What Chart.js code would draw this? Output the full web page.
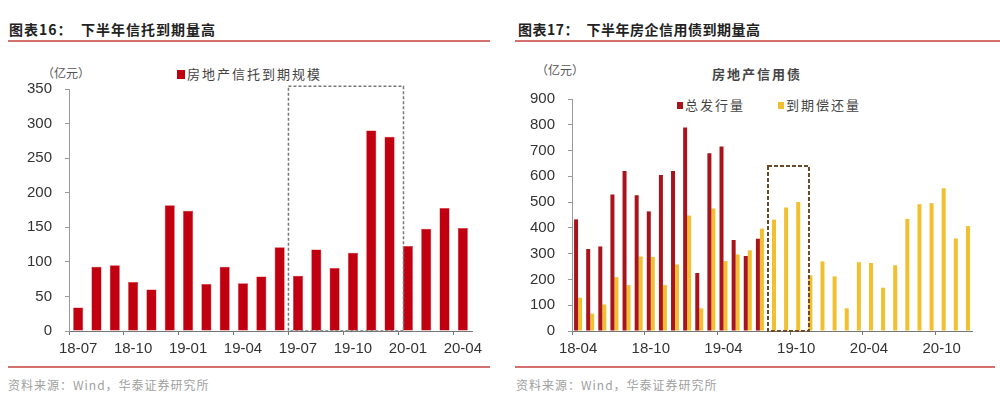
<!DOCTYPE html>
<html>
<head>
<meta charset="utf-8">
<script src="https://cdn.jsdelivr.net/npm/chart.js@4.4.1/dist/chart.umd.min.js"></script>
<style>
  body { margin: 0; background: #fff; width: 1000px; height: 396px; position: relative; overflow: hidden;
         font-family: "Noto Sans CJK SC", "Noto Sans", sans-serif; }
  .abs { position: absolute; white-space: nowrap; }
  .title { font-size: 14px; font-weight: 700; color: #222; top: 19px; }
  .hline { position: absolute; height: 2px; background: #d4706e; }
  .src { font-size: 12px; color: #a0a0a0; top: 376px; letter-spacing: 1px; }
  .unit { font-size: 12px; color: #555; }
  .leg { font-size: 13px; color: #444; }
  .sq { display: inline-block; vertical-align: middle; margin-right: 2px; position: relative; top: -1px; }
  canvas { position: absolute; }
</style>
</head>
<body>
<div class="abs title" style="left:9px; letter-spacing:1px;">图表16：&nbsp;&nbsp;下半年信托到期量高</div>
<div class="hline" style="left:8px; width:482px; top:40px;"></div>
<div class="abs title" style="left:518px; letter-spacing:0.5px;">图表17：&nbsp;&nbsp;下半年房企信用债到期量高</div>
<div class="hline" style="left:515px; width:485px; top:40px;"></div>

<div class="abs unit" style="left:42px; top:64px;">（亿元）</div>
<div class="abs leg" style="left:177px; top:64px; letter-spacing:2px;"><span class="sq" style="width:8px;height:9px;background:#c00010;"></span>房地产信托到期规模</div>

<div class="abs unit" style="left:536px; top:61px;">（亿元）</div>
<div class="abs leg" style="left:712px; top:64px; font-weight:700; letter-spacing:2px;">房地产信用债</div>
<div class="abs leg" style="left:677px; top:95px; letter-spacing:2px;"><span class="sq" style="width:6px;height:7px;background:#a8141b;"></span>总发行量</div>
<div class="abs leg" style="left:778px; top:95px; letter-spacing:2px;"><span class="sq" style="width:6px;height:7px;background:#f0c030;"></span>到期偿还量</div>

<canvas id="c1" width="490" height="300" style="left:0; top:60px;"></canvas>
<canvas id="c2" width="500" height="300" style="left:500px; top:60px;"></canvas>

<div class="hline" style="left:8px; width:482px; top:366px; height:1.5px;"></div>
<div class="hline" style="left:515px; width:480px; top:366px; height:1.5px;"></div>
<div class="abs src" style="left:8px;">资料来源：Wind，华泰证券研究所</div>
<div class="abs src" style="left:516px;">资料来源：Wind，华泰证券研究所</div>

<script>
// 图表16 房地产信托到期规模
var trustMonths = ['18-07','18-08','18-09','18-10','18-11','18-12','19-01','19-02','19-03','19-04','19-05',
                   '19-06','19-07','19-08','19-09','19-10','19-11','19-12','20-01','20-02','20-03','20-04'];
var trustDue = [34, 93, 95, 71, 60, 182, 174, 68, 93, 69, 79, 121, 80, 118, 91, 113, 290, 281, 123, 148, 178, 149];

// 图表17 房地产信用债
var bondMonths = ['18-04','18-05','18-06','18-07','18-08','18-09','18-10','18-11','18-12','19-01','19-02',
                  '19-03','19-04','19-05','19-06','19-07','19-08','19-09','19-10','19-11','19-12','20-01',
                  '20-02','20-03','20-04','20-05','20-06','20-07','20-08','20-09','20-10','20-11','20-12'];
var bondIssue = [433, 318, 328, 530, 621, 527, 464, 605, 621, 789, 225, 690, 716, 353, 291, 358];
var bondRepay = [129, 67, 103, 209, 178, 289, 287, 178, 258, 448, 88, 475, 271, 297, 313, 397,
                 432, 479, 500, 216, 270, 212, 88, 267, 264, 168, 255, 435, 492, 496, 554, 359, 407];

// highlighted windows (category index range, top value)
var trustBox = { from: 11.48, to: 17.76, top: 354, color: '#777' };
var bondBox = { from: 15.67, to: 19.05, top: 640, color: '#6b4a2a' };

var numFont = { family: '"Liberation Sans", Arial, sans-serif', size: 15 };

var boxPlugin = {
    id: 'dashBox',
    afterDatasetsDraw: function(chart, args, opts) {
        var x = chart.scales.x, y = chart.scales.y, ctx = chart.ctx;
        var step = x.getPixelForValue(1) - x.getPixelForValue(0);
        var x0 = x.getPixelForValue(0) + opts.from * step;
        var x1 = x.getPixelForValue(0) + opts.to * step;
        var y0 = y.getPixelForValue(opts.top), y1 = y.getPixelForValue(0);
        ctx.save();
        ctx.strokeStyle = opts.color;
        ctx.lineWidth = opts.width || 1.5;
        ctx.setLineDash(opts.dash || [3, 2]);
        ctx.strokeRect(x0, y0, x1 - x0, y1 - y0);
        ctx.restore();
    }
};

function makeOptions(every, yMax, yStep, yWidth, padTop, padRight, box) {
    return {
        responsive: false,
        animation: false,
        layout: { padding: { left: 0, top: padTop, right: padRight, bottom: 0 } },
        plugins: {
            legend: { display: false },
            tooltip: { enabled: false },
            dashBox: box
        },
        scales: {
            x: {
                afterFit: function(s) { s.height = 29; },
                border: { color: '#777', width: 1 },
                grid: {
                    offset: true,
                    drawOnChartArea: false,
                    tickLength: 4,
                    color: function(c) { return c.index % every === 0 ? '#777' : 'rgba(0,0,0,0)'; }
                },
                ticks: {
                    autoSkip: false,
                    maxRotation: 0,
                    padding: 5,
                    color: '#333',
                    font: numFont,
                    callback: function(v, i) { return i % every === 0 ? this.getLabelForValue(v) : ''; }
                }
            },
            y: {
                min: 0,
                max: yMax,
                afterFit: function(s) { s.width = yWidth; },
                border: { color: '#999', width: 1 },
                grid: { drawOnChartArea: false, tickLength: 4, color: '#999' },
                ticks: { stepSize: yStep, padding: 13, color: '#333', font: numFont }
            }
        }
    };
}

new Chart(document.getElementById('c1').getContext('2d'), {
    type: 'bar',
    data: {
        labels: trustMonths,
        datasets: [{
            label: '房地产信托到期规模',
            data: trustDue,
            backgroundColor: '#c00010',
            borderColor: '#d42a2a',
            borderWidth: 0.5,
            categoryPercentage: 0.55,
            barPercentage: 1.0
        }]
    },
    options: makeOptions(3, 350, 50, 69, 29, 18, trustBox),
    plugins: [boxPlugin]
});

new Chart(document.getElementById('c2').getContext('2d'), {
    type: 'bar',
    data: {
        labels: bondMonths,
        datasets: [{
            label: '总发行量',
            data: bondIssue,
            backgroundColor: '#a8141b',
            categoryPercentage: 0.66,
            barPercentage: 1.0
        }, {
            label: '到期偿还量',
            data: bondRepay,
            backgroundColor: '#f0c030',
            categoryPercentage: 0.66,
            barPercentage: 1.0
        }]
    },
    options: makeOptions(6, 900, 100, 72, 39, 28, Object.assign({ width: 2, dash: [4, 2] }, bondBox)),
    plugins: [boxPlugin]
});
</script>
</body>
</html>
